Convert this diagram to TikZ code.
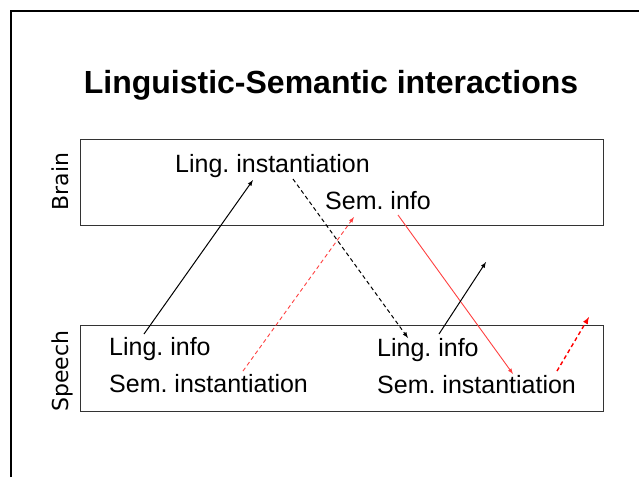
\documentclass[tikz,border=0pt]{standalone}
\usepackage{fontspec}
\setmainfont{Liberation Sans}
\newfontfamily\sidefont{DejaVu Sans}
\frenchspacing
\usetikzlibrary{arrows,positioning}

\begin{document}
\begin{tikzpicture}[
  x=1pt,y=-1pt,
  layer/.style={draw=black!80,line width=1pt,minimum width=523pt,minimum height=86pt,inner sep=0pt},
  item/.style={anchor=base west,inner sep=0pt,font=\fontsize{25}{29}\selectfont},
  side/.style={anchor=base,inner sep=0pt,rotate=90,font=\sidefont\fontsize{22}{26}\selectfont}
]
  \useasboundingbox (0,0) rectangle (639,477);
  \draw[line width=1.5pt] (11,477) -- (11,11) -- (639,11);

  \node[anchor=base,inner sep=0pt,font=\bfseries\fontsize{32}{38}\selectfont] (title) at (331,93) {Linguistic-Semantic interactions};

  \node[layer] (brain) at (341.5,182) {};
  \node[layer] (speech) at (341.5,368) {};
  \node[side] (brainlab) at (68,181.5) {Brain};
  \node[side] (speechlab) at (68,371) {Speech};

  \node[item] (linginst) at (175,172) {Ling. instantiation};
  \node[item] (seminfo) at (325,209) {Sem. info};
  \node[item] (linginfoA) at (109,355) {Ling. info};
  \node[item] (seminstA) at (109,392) {Sem. instantiation};
  \node[item] (linginfoB) at (377,356) {Ling. info};
  \node[item] (seminstB) at (377,393) {Sem. instantiation};

  \coordinate (a1) at (144,334);  \coordinate (b1) at (253,180);
  \coordinate (a2) at (293,179);  \coordinate (b2) at (408,338);
  \coordinate (a3) at (243,371);  \coordinate (b3) at (354,217);
  \coordinate (a4) at (398,215);  \coordinate (b4) at (513,374);
  \coordinate (a5) at (439,334);  \coordinate (b5) at (486,262);
  \coordinate (a6) at (557,371);  \coordinate (b6) at (589,317);

  \draw[black,line width=1pt,-latex] (a1) -- (b1);
  \draw[black,line width=1pt,dash pattern=on 4pt off 3pt,-latex] (a2) -- (b2);
  \draw[red!75,line width=.9pt,dash pattern=on 4pt off 3pt,-latex] (a3) -- (b3);
  \draw[red!75,line width=.9pt,-latex] (a4) -- (b4);
  \draw[black,line width=1pt,-latex] (a5) -- (b5);
  \draw[red,line width=1.4pt,dash pattern=on 4pt off 3pt,-latex] (a6) -- (b6);
\end{tikzpicture}
\end{document}
